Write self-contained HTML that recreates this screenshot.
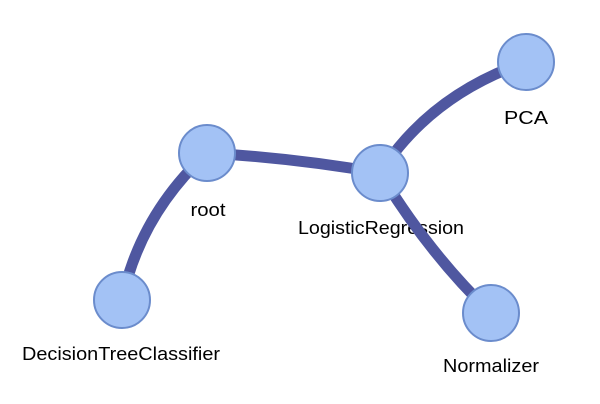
<!DOCTYPE html>
<html><head><style>html,body{margin:0;padding:0;background:#fff;width:600px;height:404px;overflow:hidden}</style></head>
<body>
<svg width="600" height="404" xmlns="http://www.w3.org/2000/svg" font-family="Liberation Sans, Arial, sans-serif" font-size="18.5" fill="#000">
<g text-anchor="middle">
<text x="208" y="216" textLength="35" lengthAdjust="spacingAndGlyphs">root</text>
<text x="381" y="234" textLength="166" lengthAdjust="spacingAndGlyphs">LogisticRegression</text>
<text x="526" y="124" textLength="44" lengthAdjust="spacingAndGlyphs">PCA</text>
<text x="121" y="360" textLength="198" lengthAdjust="spacingAndGlyphs">DecisionTreeClassifier</text>
<text x="491" y="372" textLength="96" lengthAdjust="spacingAndGlyphs">Normalizer</text>
</g>
<g stroke="#4f57a0" stroke-width="11" fill="none">
<path d="M207 153 Q295 158 380 173"/>
<path d="M380 173 Q430 95 526 62"/>
<path d="M380 173 Q430 255 491 313"/>
<path d="M207 153 Q140 215 122 300"/>
</g>
<g fill="#a3c2f5" stroke="#6b8ccc" stroke-width="2">
<circle cx="207" cy="153" r="28"/>
<circle cx="380" cy="173" r="28"/>
<circle cx="526" cy="62" r="28"/>
<circle cx="122" cy="300" r="28"/>
<circle cx="491" cy="313" r="28"/>
</g>
</svg>
</body></html>
